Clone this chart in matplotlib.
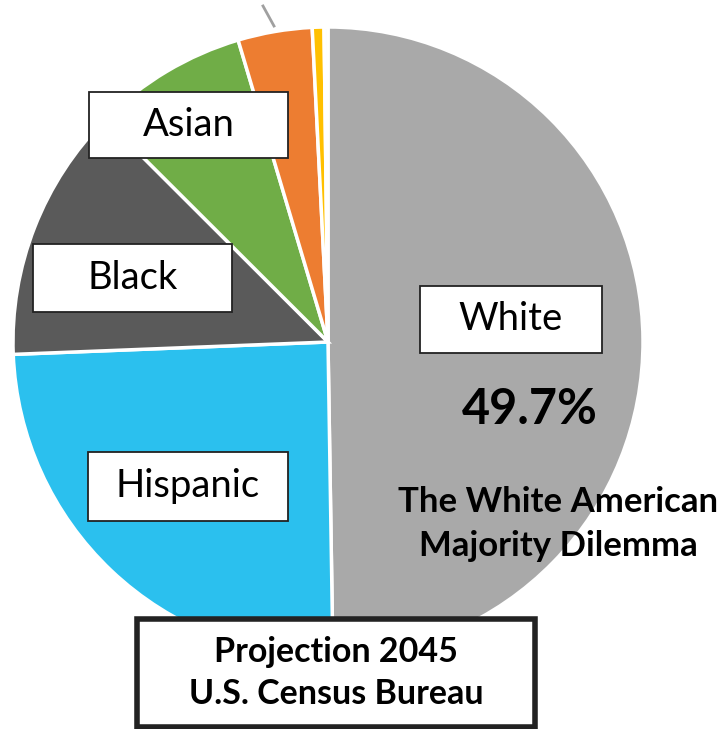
import matplotlib
matplotlib.use("Agg")
import matplotlib.pyplot as plt
from matplotlib.patches import Rectangle

# 2045 projection shares (%), clockwise from 12 o'clock
groups = ["White", "Hispanic", "Black", "Asian", "Multiracial", "AIAN", "NHPI"]
shares = [49.7, 24.6, 13.1, 7.9, 3.8, 0.6, 0.2]
colors = ["#A9A9A9", "#2BC0EE", "#5A5A5A", "#70AD47", "#ED7D31", "#FFC000", "#FAFAFA"]

plt.rcParams['font.family'] = ['Lato', 'DejaVu Sans']

W, H = 721, 729
CX, CY, R = 328, 342, 315  # pie centre / radius in pixels


def px(x, y):
    # image pixel -> data coords (pie radius = 1)
    return (x - CX) / R, (CY - y) / R


fig = plt.figure(figsize=(W / 100, H / 100), dpi=100)
ax = fig.add_axes([0, 0, 1, 1])

ax.pie(shares, colors=colors, startangle=90, counterclock=False, radius=1,
       wedgeprops=dict(edgecolor="white", linewidth=2.5))

# pie() resets limits, so set them afterwards
ax.set_xlim(px(0, 0)[0], px(W, 0)[0])
ax.set_ylim(px(0, H)[1], px(0, 0)[1])
ax.set_aspect("auto")
ax.axis("off")

# leader line of the cut-off label at the top
x0, y0 = px(263, 6)
x1, y1 = px(274, 26)
ax.plot([x0, x1], [y0, y1], color="#A0A0A0", lw=2)


def label_box(x_left, y_top, x_right, y_bot, text, fs, lw=1.3, weight="normal",
              ls=1.15):
    xa, ya = px(x_left, y_bot)
    xb, yb = px(x_right, y_top)
    ax.add_patch(Rectangle((xa, ya), xb - xa, yb - ya, facecolor="white",
                           edgecolor="#222222", lw=lw, zorder=5))
    ax.text((xa + xb) / 2, (ya + yb) / 2, text, ha="center", va="center",
            fontsize=fs, fontweight=weight, zorder=6, linespacing=ls)


label_box(89, 92, 288, 158, "Asian", 27.5)
label_box(33, 244, 232, 312, "Black", 27.5)
label_box(420, 286, 602, 353, "White", 27.5)
label_box(88, 452, 288, 521, "Hispanic", 27.5)
label_box(137, 619, 535, 727, "Projection 2045\nU.S. Census Bureau", 24.5,
          lw=4, weight="bold", ls=1.35)

tx, ty = px(530, 409)
ax.text(tx, ty, "49.7%", ha="center", va="center", fontsize=35, fontweight="bold")
tx, ty = px(558, 524)
ax.text(tx, ty, "The White American\nMajority Dilemma", ha="center", va="center",
        fontsize=25, fontweight="bold", linespacing=1.45)

fig.savefig("out.png", dpi=100)
